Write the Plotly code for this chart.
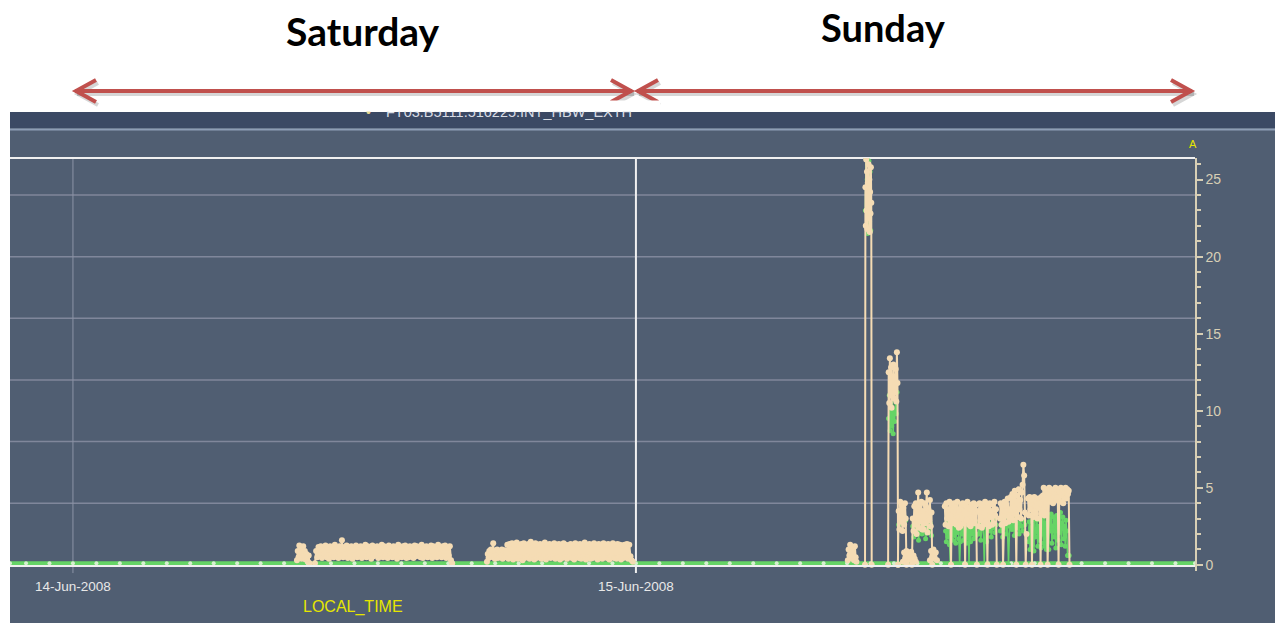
import numpy as np
import pandas as pd
import plotly.graph_objects as go

# ---------------- data ----------------
X_RANGE = ["2008-06-13 21:19", "2008-06-15 23:50"]
DAY_TICKS = ["2008-06-14", "2008-06-15"]
DAY_TICK_TEXT = ["14-Jun-2008", "15-Jun-2008"]
Y_TICKS = [0, 5, 10, 15, 20, 25]
GRID_VALUES = [4, 8, 12, 16, 20, 24]
DAY_LABELS = ["Saturday", "Sunday"]
SERIES_NAME = "FT03.B5111.516225:INT_HBW_EXTH"

# green baseline (hourly samples, ~0 A)
BASE_TIMES = ["2008-06-13 21:19"] + [t.strftime("%Y-%m-%d %H:%M") for t in
              pd.date_range("2008-06-13 22:00", "2008-06-15 23:00", freq="h")] + ["2008-06-15 23:50"]
BASE_VALUES = [0.1] * len(BASE_TIMES)

# beige series segments: (start time, sample step in minutes, values)
sat_a = [0.3, 0.9, 0.5, 1.25, 0.7, 1.0, 0.4, 0.8, 1.2, 0.6, 0.9, 0.35, 0.7, 0.5, 0.2, 0.6, 0.1]
sat_b = [0.1, 0.9, 0.5, 1.15, 0.6, 1.2, 0.45, 1.0, 0.7, 1.25, 0.5, 1.1, 0.4, 1.2, 0.65, 1.15, 0.5, 1.3, 0.55, 1.05,
         0.45, 1.2, 0.6, 1.6, 0.5, 1.15, 0.7, 1.25, 0.45, 1.1, 0.55, 1.2, 0.4, 1.0, 0.6, 1.25, 0.5, 1.15, 0.65, 1.2,
         0.45, 1.1, 0.55, 1.3, 0.5, 1.2, 0.6, 1.05, 0.4, 1.25, 0.55, 1.15, 0.7, 1.2, 0.45, 1.1, 0.6, 1.3, 0.5, 1.2,
         0.55, 1.15, 0.45, 1.25, 0.6, 1.0, 0.5, 1.2, 0.65, 1.15, 0.4, 1.3, 0.55, 1.1, 0.5, 1.2, 0.6, 1.25, 0.45, 1.15,
         0.5, 1.2, 0.7, 1.1, 0.45, 1.25, 0.55, 1.2, 0.6, 1.05, 0.5, 1.3, 0.45, 1.15, 0.6, 1.2, 0.5, 1.1, 0.55, 1.25,
         0.45, 1.2, 0.6, 1.15, 0.5, 1.3, 0.65, 1.1, 0.5, 1.2, 0.55, 1.25, 0.45, 1.1, 0.6, 1.2, 0.3, 0.1]
sat_c = [0.2, 0.7, 0.45, 0.9, 0.5, 1.0, 0.6, 0.95, 1.4, 0.55, 0.4, 0.85, 0.6, 1.0, 0.45, 0.9, 0.5, 0.8,
         0.6, 1.0, 0.4, 0.9, 0.55, 0.95, 0.5, 0.8]
sat_d = [1.3, 0.4, 1.35, 0.5, 1.4, 0.35, 1.3, 0.55, 1.45, 0.4, 1.3, 0.5, 1.35, 0.3, 1.4, 0.45, 1.3, 0.55, 1.35, 0.4,
         1.5, 0.5, 1.3, 0.35, 1.4, 0.45, 1.3, 0.6, 1.35, 0.4, 1.3, 0.5, 1.45, 0.35, 1.3, 0.5, 1.35, 0.45, 1.3, 0.55,
         1.4, 0.4, 1.3, 0.5, 1.35, 0.35, 1.3, 0.45, 1.4, 0.5, 1.3, 0.4, 1.25, 0.55, 1.35, 0.45, 1.3, 0.35, 1.4, 0.5,
         1.3, 0.45, 1.35, 0.4, 1.3, 0.55, 1.45, 0.35, 1.3, 0.5, 1.35, 0.4, 1.3, 0.45, 1.4, 0.55, 1.3, 0.35, 1.35, 0.5,
         1.3, 0.4, 1.4, 0.5, 1.3, 0.45, 1.35, 0.35, 1.3, 0.55, 1.4, 0.45, 1.3, 0.4, 1.35, 0.5, 1.3, 0.35, 1.25, 0.45,
         1.3, 0.5, 1.35, 0.4, 1.3, 0.55, 0.3, 0.2]
sun_a = [0.3, 1.0, 0.6, 1.3, 0.5, 0.9, 0.4, 1.1, 0.3, 1.2, 0.5, 0.2]
sun_spike1 = [0, 24.5, 22.0, 26.3, 23.0, 25.5, 21.8, 24.8, 22.5, 26.0, 23.2, 25.0, 21.6,
              24.2, 22.8, 25.8, 23.5, 0]
sun_spike2 = [0, 12.5, 10.5, 13.4, 11.0, 12.8, 10.2, 12.0, 11.5, 13.0, 10.8, 12.2, 11.2,
              12.7, 10.6, 13.8, 11.8, 0]
sun_blk_a = [0, 3.5, 2.3, 4.1, 2.8, 3.9, 2.2, 3.7, 2.6, 4.0, 3.0, 0]
sun_low_1 = [0.2, 0.8, 0.4, 0.9, 0.3, 0.7, 0.5, 0.85, 0.25, 0.6, 0.4, 0.2]
sun_blk_b = [0, 3.0, 2.2, 3.8, 2.6, 4.0, 2.0, 3.6, 4.7, 2.4, 3.9, 2.8, 4.1, 2.3, 3.5, 2.3,
             4.0, 2.7, 3.8, 4.7, 2.1, 3.6, 2.9, 4.2, 2.5, 3.4, 0]
sun_low_2 = [0.3, 0.9, 0.5, 1.0, 0.4, 0.8, 0.3]
sun_blk_c = [3.8, 2.6, 4.0, 3.0, 3.6, 2.5, 4.1, 3.2, 0, 3.9, 2.7, 3.5, 4.0, 2.8, 3.7, 2.6,
             4.1, 3.1, 2.4, 3.6, 2.5, 3.9, 3.0, 4.0, 2.7, 3.5, 0, 3.8, 2.9, 4.1, 3.3, 2.6,
             3.7, 2.5, 3.9, 2.8, 3.6, 4.0, 2.7, 3.4, 3.9, 0]
sun_blk_d = [3.5, 2.5, 4.0, 2.9, 3.7, 2.4, 3.9, 2.6, 3.4, 4.1, 2.8, 3.6, 0, 3.8, 2.5, 4.0,
             3.1, 3.5, 2.6, 3.9, 2.7, 4.1, 3.2, 3.6, 0]
sun_blk_e = [3.0, 4.0, 2.6, 3.8, 0, 3.5, 4.1, 2.7, 3.9, 3.2, 4.3, 2.8, 3.1, 3.6, 4.4, 3.0,
             4.6, 2.9, 3.8, 4.8, 3.3, 0, 4.5, 3.1, 4.9, 3.6, 4.2, 3.0, 4.7, 5.2, 6.5, 5.8,
             3.4, 0, 2.0]
sun_blk_f = [4.3, 3.2, 4.4, 3.6, 4.0, 0, 4.2, 3.1, 4.4, 3.5, 3.3, 4.1, 3.0, 4.3, 3.7, 4.0,
             0, 4.4, 3.3, 4.2, 3.6, 3.2, 4.1, 3.4, 4.3]
sun_blk_g = [4.5, 5.0, 4.2, 4.9, 4.0, 4.8, 0, 4.6, 5.0, 4.1, 4.9, 4.3, 4.8, 4.0, 4.4, 4.7,
             5.0, 4.2, 4.9, 4.4, 0, 4.8, 4.1, 5.0, 4.5, 4.9, 4.0, 4.3, 4.7, 5.0, 4.3, 4.9,
             4.6, 4.8, 0]

BEIGE_SEGMENTS = [
    ("2008-06-14 09:33", 2, sat_a),
    ("2008-06-14 10:19", 3, sat_b),
    ("2008-06-14 17:39", 2, sat_c),
    ("2008-06-14 18:31", 3, sat_d),
    ("2008-06-15 09:02", 2, sun_a),
    ("2008-06-15 09:46", 1, sun_spike1),
    ("2008-06-15 10:45", 1.5, sun_spike2),
    ("2008-06-15 11:10", 2, sun_blk_a),
    ("2008-06-15 11:23", 3, sun_low_1),
    ("2008-06-15 11:46", 2, sun_blk_b),
    ("2008-06-15 12:32", 3, sun_low_2),
    ("2008-06-15 13:10", 2, sun_blk_c),
    ("2008-06-15 14:35", 2, sun_blk_d),
    ("2008-06-15 15:31", 2, sun_blk_e),
    ("2008-06-15 16:43", 2, sun_blk_f),
    ("2008-06-15 17:21", 2, sun_blk_g),
]

# green series segments (Sunday activity)
g_spike1 = [23.0, 26.4, 22.0, 25.0, 21.5, 24.0, 26.2, 22.3, 25.5, 21.7]
g_spike2 = [9.5, 11.0, 8.7, 10.2, 9.0, 11.5, 8.5, 10.0, 9.3, 10.8, 9.8, 11.2]
g_blk_a = [2.6, 3.0, 2.8, 3.2, 2.7, 3.1, 2.9]
g_blk_b = [2.5, 1.8, 2.9, 2.2, 3.0, 1.6, 2.4, 2.8, 2.0, 3.1, 2.6, 1.7, 2.3, 2.9, 2.1, 2.7, 1.9]
g_blk_c = [2.2, 1.5, 2.8, 1.8, 3.0, 1.3, 0, 2.0, 3.1, 1.6, 2.4, 1.9, 2.9, 1.4, 2.6, 2.1, 3.2,
           1.7, 0, 1.5, 2.7, 2.0, 3.0, 1.6, 2.5, 1.8, 2.9, 1.4, 2.2, 2.6, 0, 3.1, 1.5, 2.4,
           2.0, 2.8, 1.7, 2.3, 2.6, 1.9]
g_blk_d = [2.0, 2.8, 1.6, 2.5, 3.0, 0, 2.6, 1.5, 2.9, 2.2, 2.7, 1.8, 2.4, 3.0, 2.1, 2.6]
g_blk_e = [2.2, 2.9, 1.8, 2.6, 3.1, 2.0, 2.7, 0, 2.5, 3.0, 2.3, 2.8, 1.9, 3.2, 2.4, 2.7,
           2.0, 3.0, 2.5, 2.2, 2.9, 2.6]
g_blk_f = [1.5, 2.8, 1.0, 2.4, 3.2, 1.3, 2.6, 0.9, 2.9, 1.8, 2.2, 3.0, 1.2, 2.5, 1.6, 2.9,
           1.1, 2.3, 3.1, 1.4, 2.7, 1.9, 2.4, 1.0]
g_blk_g = [2.0, 3.2, 1.2, 2.6, 3.4, 1.5, 2.8, 1.0, 3.0, 2.2, 3.3, 1.4, 2.5, 3.1, 1.8, 2.9,
           1.1, 3.2, 2.4, 1.6, 3.0, 2.1, 3.4, 1.3, 2.7, 3.1, 1.7, 2.5, 1.2, 2.9, 2.2, 0.6,
           0.6, 0.6]

GREEN_SEGMENTS = [
    ("2008-06-15 09:47", 1.5, g_spike1),
    ("2008-06-15 10:46", 2, g_spike2),
    ("2008-06-15 11:12", 3, g_blk_a),
    ("2008-06-15 11:48", 3, g_blk_b),
    ("2008-06-15 13:12", 2, g_blk_c),
    ("2008-06-15 14:36", 3, g_blk_d),
    ("2008-06-15 15:32", 3, g_blk_e),
    ("2008-06-15 16:44", 2, g_blk_f),
    ("2008-06-15 17:22", 2, g_blk_g),
]

# ---------------- colours ----------------
PANEL = "#505e72"
BAND = "#3b4964"
BEIGE = "#f5dcb4"
GREEN = "#66d466"
AXIS_COL = "#d8cfb5"
GRID_COL = "#80879b"
RED = "#c0504d"
FONT = "Liberation Sans, Arial, sans-serif"
TITLE_FONT = "Lato, Open Sans, sans-serif"


def build(segments):
    xs, ys = [], []
    for start, step, vals in segments:
        offs = pd.to_timedelta(np.arange(len(vals)) * step, unit="min")
        times = pd.Timestamp(start) + offs
        xs += [t.strftime("%Y-%m-%d %H:%M:%S") for t in times]
        ys += list(vals)
        xs.append(None)
        ys.append(None)
    return xs, ys


bx, by = build(BEIGE_SEGMENTS)
gx, gy = build(GREEN_SEGMENTS)

# ---------------- geometry (page has an 8px body margin) ----------------
OFF = 8
W, H = 1283 - OFF, 623 - OFF
PL, PR, PT, PB = 10 - OFF, 1195 - OFF, 158 - OFF, 571 - OFF


def px(x):
    """screen x (reference pixels) -> paper x"""
    return (x - OFF - PL) / (PR - PL)


def py(y):
    """screen y (reference pixels) -> paper y"""
    return (PB - (y - OFF)) / (PB - PT)


fig = go.Figure()

fig.add_trace(go.Scatter(
    x=BASE_TIMES, y=BASE_VALUES, mode="lines+markers",
    line=dict(color=GREEN, width=4),
    marker=dict(color="#d6efcf", size=4),
    hoverinfo="skip", showlegend=False))

fig.add_trace(go.Scatter(
    x=gx, y=gy, mode="lines+markers",
    line=dict(color=GREEN, width=1.5),
    marker=dict(color=GREEN, size=5),
    connectgaps=False, showlegend=False))

fig.add_trace(go.Scatter(
    x=bx, y=by, mode="lines+markers",
    line=dict(color=BEIGE, width=2),
    marker=dict(color=BEIGE, size=6),
    connectgaps=False, showlegend=False, name=SERIES_NAME))

shapes = []
# dark panel background
shapes.append(dict(type="rect", xref="paper", yref="paper", x0=px(10), x1=px(1300),
                   y0=py(640), y1=py(112), fillcolor=PANEL, line=dict(width=0), layer="below"))
shapes.append(dict(type="rect", xref="paper", yref="paper", x0=px(10), x1=px(1300),
                   y0=py(128), y1=py(112), fillcolor=BAND, line=dict(width=0), layer="below"))
shapes.append(dict(type="line", xref="paper", yref="paper", x0=px(10), x1=px(1300),
                   y0=py(129.5), y1=py(129.5), line=dict(color="#8d9db5", width=2), layer="below"))
# horizontal gridlines
for g in GRID_VALUES:
    shapes.append(dict(type="line", xref="x domain", yref="y", x0=0, x1=1, y0=g, y1=g,
                       line=dict(color=GRID_COL, width=1.5), layer="below"))
# day gridlines
shapes.append(dict(type="line", xref="x", yref="y domain", x0=DAY_TICKS[0], x1=DAY_TICKS[0],
                   y0=-0.005, y1=1, line=dict(color="#8c95a6", width=1), layer="below"))
shapes.append(dict(type="line", xref="x", yref="y domain", x0=DAY_TICKS[1], x1=DAY_TICKS[1],
                   y0=-0.005, y1=1, line=dict(color="#f0f0f0", width=2), layer="below"))
# top border and zero line
shapes.append(dict(type="line", xref="x domain", yref="y domain", x0=0, x1=1, y0=1, y1=1,
                   line=dict(color="#f0f0f0", width=2), layer="below"))
shapes.append(dict(type="line", xref="x domain", yref="y", x0=0, x1=1, y0=-0.08, y1=-0.08,
                   line=dict(color="#f0f0f0", width=2), layer="above"))

# red double arrows with shadow
ARROWS = [(75, 632), (637, 1192)]
AY = 91
for off, col in [((2, 3), "rgba(0,0,0,0.16)"), ((0, 0), RED)]:
    dx, dy = off
    for a, b in ARROWS:
        shapes.append(dict(type="line", xref="paper", yref="paper",
                           x0=px(a + dx), x1=px(b + dx), y0=py(AY + dy), y1=py(AY + dy),
                           line=dict(color=col, width=4), layer="above"))
        for tip, sgn in [(a, 1), (b, -1)]:
            p = "M {},{} L {},{} L {},{}".format(
                px(tip + dx + sgn * 21), py(AY + dy - 11),
                px(tip + dx + sgn * 1), py(AY + dy),
                px(tip + dx + sgn * 21), py(AY + dy + 11))
            shapes.append(dict(type="path", xref="paper", yref="paper", path=p,
                               line=dict(color=col, width=4), layer="above"))


def ann(text, x, y, **kw):
    d = dict(text=text, x=px(x), y=py(y), xref="paper", yref="paper", showarrow=False,
             xanchor="center", yanchor="middle")
    d.update(kw)
    return d


annotations = [
    ann(DAY_LABELS[0], 363, 31,
        font=dict(family=TITLE_FONT, size=39, color="black", weight="bold")),
    ann(DAY_LABELS[1], 883, 27,
        font=dict(family=TITLE_FONT, size=38, color="black", weight="bold")),
    ann("\u2022", 368, 112, font=dict(family=FONT, size=14, color="#e8d890")),
    ann(SERIES_NAME, 384, 112, xanchor="left",
        font=dict(family=FONT, size=14.5, color="#d8dce4")),
    ann("", 505, 106.5, width=310, height=10, bgcolor="white", borderpad=0),
    ann("A", 1193, 144, font=dict(family=FONT, size=11, color="#e6e600")),
    ann("LOCAL_TIME", 353, 607, font=dict(family=FONT, size=16, color="#e6e600")),
]

fig.update_layout(
    width=W, height=H,
    margin=dict(l=PL, r=W - PR, t=PT, b=H - PB, pad=0),
    paper_bgcolor="white", plot_bgcolor=PANEL,
    shapes=shapes, annotations=annotations, showlegend=False,
    xaxis=dict(type="date", range=X_RANGE, tickvals=DAY_TICKS, ticktext=DAY_TICK_TEXT,
               showgrid=False, zeroline=False, showline=False,
               ticks="outside", ticklen=3, tickcolor="rgba(0,0,0,0)",
               tickfont=dict(family=FONT, size=13.5, color="#e8e8e8")),
    yaxis=dict(range=[-0.4, 26.4], side="right", tickvals=Y_TICKS, showgrid=False,
               zeroline=False, showline=True, linecolor=AXIS_COL, linewidth=1.5,
               ticks="outside", ticklen=6, tickcolor=AXIS_COL, tickwidth=1.5,
               minor=dict(dtick=1, tick0=0, ticks="outside", ticklen=4,
                          tickcolor=AXIS_COL, tickwidth=1.5),
               tickfont=dict(family=FONT, size=14, color=AXIS_COL)),
)

fig.write_html("out.html")
